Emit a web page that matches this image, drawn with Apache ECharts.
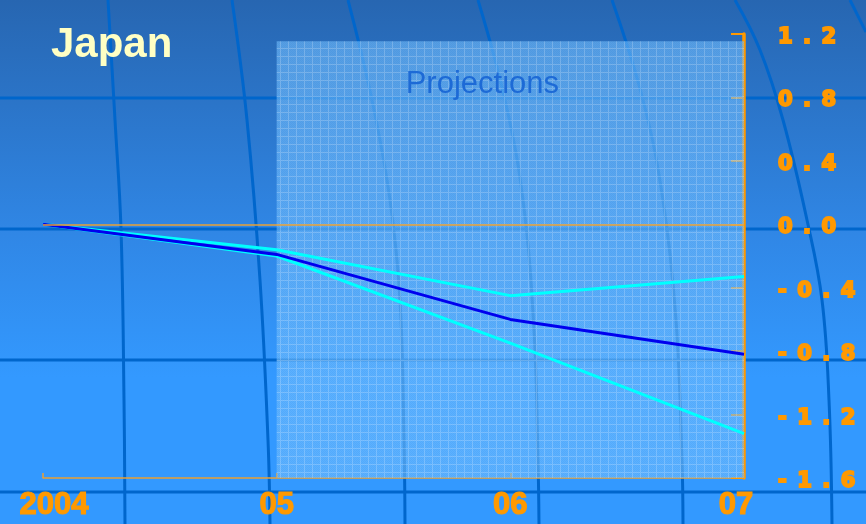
<!DOCTYPE html>
<html>
<head>
<meta charset="utf-8">
<script src="https://cdn.jsdelivr.net/npm/echarts@6/dist/echarts.min.js"></script>
<style>
  html, body { margin: 0; padding: 0; background: #2f80d8; }
  #chart { width: 866px; height: 524px; }
</style>
</head>
<body>
<div id="chart"></div>
<script>
// Years on the horizontal axis
const years = ['2004', '05', '06', '07'];

// Central projection and the upper / lower band around it
const central = [0, -0.19, -0.60, -0.82];
const upperBand = [0, -0.16, -0.45, -0.33];
const lowerBand = [0, -0.20, -0.75, -1.32];

// Right-hand value axis
const yMin = -1.6;
const yMax = 1.2;
const yStep = 0.4;
const yTickLabels = ['-1.6', '-1.2', '-0.8', '-0.4', '0.0', '0.4', '0.8', '1.2'];

// Shaded projection period
const projectionStart = '05';
const projectionEnd = '07';
const projectionTitle = 'Projections';

const ORANGE = '#ff9900';
const GLOBE = '#0066cc';

// Light gridded texture for the projection box
function makeTexture() {
  const c = document.createElement('canvas');
  c.width = 8; c.height = 8;
  const ctx = c.getContext('2d');
  ctx.fillStyle = 'rgba(120,195,255,0.58)';
  ctx.fillRect(0, 0, 8, 8);
  ctx.fillStyle = 'rgba(30,110,220,0.10)';
  for (let y = 0; y < 8; y++) {
    for (let x = (y % 2); x < 8; x += 2) ctx.fillRect(x, y, 1, 1);
  }
  ctx.fillStyle = 'rgba(255,255,255,0.2)';
  ctx.fillRect(0, 0, 8, 1);
  ctx.fillRect(0, 1, 1, 7);
  return c;
}

// Globe-style backdrop: meridians and parallels
const meridians = [
  [[108, 0], [115, 120], [121, 229], [124, 400], [125, 524]],
  [[232, 0], [247, 120], [260, 280], [268, 440], [270, 524]],
  [[348, 0], [372, 100], [390, 200], [400, 300], [404, 440], [405, 524]],
  [[478, 0], [505, 100], [523, 200], [534, 330], [538, 460], [539, 524]],
  [[612, 0], [643, 100], [663, 200], [676, 320], [682, 460], [683, 524]],
  [[735, 0], [760, 50], [783, 120], [807, 220], [822, 300], [829, 400], [832, 524]],
  [[850, 0], [866, 32]]
];
const parallels = [98, 229, 360, 492];

const graphics = [{
  type: 'rect', z: -20, silent: true,
  shape: { x: 0, y: 0, width: 866, height: 524 },
  style: {
    fill: new echarts.graphic.LinearGradient(0, 0, 0, 1, [
      { offset: 0, color: '#2766b1' },
      { offset: 0.45, color: '#3087e6' },
      { offset: 0.72, color: '#3399ff' },
      { offset: 1, color: '#3399ff' }
    ])
  }
}];
parallels.forEach(y => graphics.push({
  type: 'line', z: -10, silent: true,
  shape: { x1: 0, y1: y, x2: 866, y2: y },
  style: { stroke: GLOBE, lineWidth: 3 }
}));
meridians.forEach(pts => graphics.push({
  type: 'polyline', z: -10, silent: true,
  shape: { points: pts, smooth: 0.4 },
  style: { stroke: GLOBE, lineWidth: 3, fill: null }
}));

const chart = echarts.init(document.getElementById('chart'), null, { renderer: 'canvas' });

function spaced(s) {
  return '{v|' + s.split('').join('\u2002') + '}';
}

const option = {
  animation: false,
  title: {
    text: 'Japan',
    left: 51, top: 24, padding: 0,
    textStyle: {
      fontFamily: 'Liberation Sans, Arial, sans-serif',
      fontWeight: 'bold', fontSize: 42, color: '#ffffc4'
    }
  },
  graphic: graphics,
  grid: { left: 43, right: 122, top: 34, bottom: 46 },
  xAxis: {
    type: 'category',
    data: years,
    boundaryGap: false,
    axisLine: { onZero: false, lineStyle: { color: '#eaa033', width: 1.5 } },
    axisTick: { inside: true, length: 5, lineStyle: { color: '#eaa033', width: 1.5 } },
    axisLabel: {
      margin: 12,
      formatter: (v, i) => i === 0 ? '{f|' + v + '}' : (i === years.length - 1 ? '{l|' + v + '}' : '{m|' + v + '}'),
      rich: {
        f: { padding: [0, 0, 0, 22] },
        m: {},
        l: { padding: [0, 16, 0, 0] }
      },
      color: ORANGE,
      textBorderColor: ORANGE, textBorderWidth: 1.2,
      fontFamily: "'Liberation Sans', Arial, sans-serif",
      fontWeight: 'bold', fontSize: 31
    },
    splitLine: { show: false }
  },
  yAxis: {
    type: 'value',
    position: 'right',
    min: yMin, max: yMax, interval: yStep,
    axisLine: { show: true, lineStyle: { color: ORANGE, width: 3.5 } },
    axisTick: { show: true, inside: true, length: 13, lineStyle: { color: ORANGE, width: 2 } },
    axisLabel: {
      margin: 34,
      align: 'left',
      formatter: v => spaced(yTickLabels[Math.round((v - yMin) / yStep)]),
      rich: { v: { padding: [7, 0, 0, 0] } },
      color: ORANGE,
      textBorderColor: ORANGE, textBorderWidth: 2,
      fontFamily: 'DejaVu Sans, sans-serif',
      fontWeight: 'bold', fontSize: 21
    },
    splitLine: { show: false }
  },
  series: [
    {
      name: 'Upper', type: 'line', data: upperBand,
      symbol: 'none', z: 3,
      lineStyle: { color: '#00ffff', width: 3 }
    },
    {
      name: 'Lower', type: 'line', data: lowerBand,
      symbol: 'none', z: 3,
      lineStyle: { color: '#00ffff', width: 3 }
    },
    {
      name: 'Central', type: 'line', data: central,
      symbol: 'none', z: 4, clip: false,
      lineStyle: { color: '#0000ee', width: 3 },
      markLine: {
        silent: true, symbol: 'none',
        label: { show: false },
        lineStyle: { color: '#e8a035', width: 1.5, type: 'solid' },
        data: [{ yAxis: 0 }]
      },
      markArea: {
        silent: true,
        itemStyle: { color: { image: makeTexture(), repeat: 'repeat' } },
        label: {
          show: true, position: 'insideTop', distance: 28, offset: [-28, 0],
          color: '#1d6ad6', fontSize: 31,
          fontFamily: 'Liberation Sans, Arial, sans-serif'
        },
        data: [[
          { name: projectionTitle, xAxis: projectionStart, yAxis: yMax - 0.045 },
          { xAxis: projectionEnd, yAxis: yMin - 0.04 }
        ]]
      }
    }
  ]
};
chart.setOption(option);
</script>
</body>
</html>
